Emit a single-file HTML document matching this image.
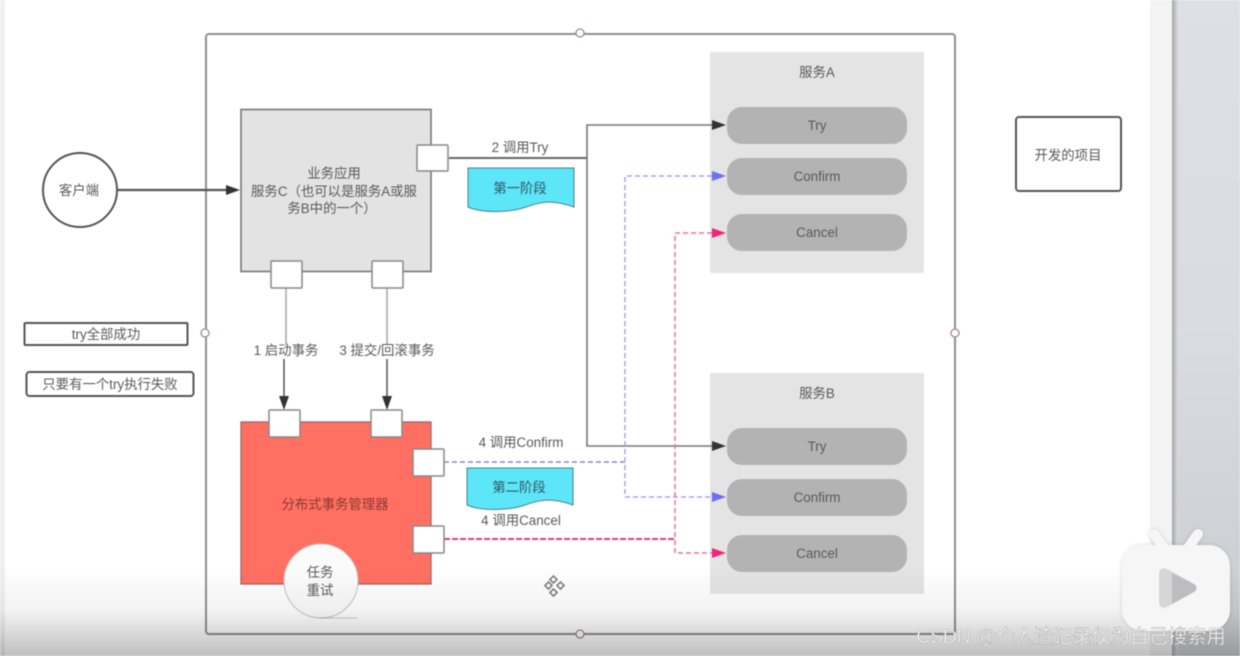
<!DOCTYPE html>
<html><head><meta charset="utf-8"><style>
html,body{margin:0;padding:0;width:1240px;height:656px;overflow:hidden;background:#fff}
svg{position:absolute;left:0;top:0;display:block;filter:blur(.45px)}
text{font-family:"Liberation Sans","Noto Sans CJK SC",sans-serif;font-size:13.4px;fill:#5a5a5a;text-anchor:middle}
</style></head><body>
<svg width="1240" height="656" viewBox="0 0 1240 656">
<defs>
<linearGradient id="fade" x1="0" y1="0" x2="0" y2="1">
<stop offset="0" stop-color="#000" stop-opacity="0"/>
<stop offset=".5" stop-color="#000" stop-opacity=".05"/>
<stop offset="1" stop-color="#000" stop-opacity=".25"/>
</linearGradient>
<linearGradient id="side" x1="0" y1="0" x2="1" y2="0">
<stop offset="0" stop-color="#a4a6aa"/><stop offset="1" stop-color="#d9dbe1"/>
</linearGradient>
<linearGradient id="panel" x1="0" y1="0" x2="0" y2="1">
<stop offset="0" stop-color="#dfe0e5"/><stop offset=".5" stop-color="#dbdce1"/><stop offset="1" stop-color="#cbccd0"/>
</linearGradient>
<filter id="sh" x="-20%" y="-20%" width="140%" height="140%"><feDropShadow dx="0" dy="0" stdDeviation="2" flood-color="#000" flood-opacity=".16"/></filter>
</defs>
<rect width="1240" height="656" fill="#fff"/>
<rect x="0" y="0" width="5" height="656" fill="#f0f0f1"/>
<rect x="1150" y="0" width="22" height="656" fill="#f3f3f3"/>
<rect x="1172" y="0" width="68" height="656" fill="url(#panel)"/>
<rect x="1172" y="0" width="6" height="656" fill="url(#side)"/>

<!-- container -->
<rect x="206" y="34" width="749" height="600" rx="3" fill="none" stroke="#8f8f8f" stroke-width="2"/>
<g fill="#fff" stroke="#a08a88" stroke-width="1.3">
<circle cx="580" cy="33" r="4"/><circle cx="205" cy="333" r="4"/><circle cx="955" cy="333" r="4"/><circle cx="580" cy="634" r="4"/>
</g>

<!-- service groups -->
<rect x="710" y="52" width="214" height="221" rx="2" fill="#e4e4e4"/>
<rect x="710" y="373" width="214" height="221" rx="2" fill="#e4e4e4"/>
<g fill="#b3b3b3">
<rect x="727" y="107" width="180" height="37" rx="15"/>
<rect x="727" y="158" width="180" height="37" rx="15"/>
<rect x="727" y="214" width="180" height="37" rx="15"/>
<rect x="727" y="428" width="180" height="37" rx="15"/>
<rect x="727" y="479" width="180" height="37" rx="15"/>
<rect x="727" y="535" width="180" height="37" rx="15"/>
</g>
<text x="817" y="77">服务A</text><text x="817" y="398">服务B</text>
<text x="817" y="130">Try</text><text x="817" y="181">Confirm</text><text x="817" y="237">Cancel</text>
<text x="817" y="451">Try</text><text x="817" y="502">Confirm</text><text x="817" y="558">Cancel</text>

<!-- app -->
<rect x="241" y="109.500" width="190" height="162" fill="#e3e3e3" stroke="#777" stroke-width="1.600"/>
<text x="334" y="178">业务应用</text>
<text x="334" y="196">服务C（也可以是服务A或服</text>
<text x="332" y="213">务B中的一个）</text>

<!-- manager -->
<rect x="241" y="422" width="190" height="162" fill="#ff7062" stroke="#9a6a62" stroke-width="1.300"/>
<text x="335" y="509" style="fill:#8c3a30">分布式事务管理器</text>
<circle cx="321" cy="581" r="37" fill="#fbfbfb" stroke="#c4c4c4" stroke-width="1"/>
<line x1="320" y1="618" x2="358" y2="618" stroke="#999" stroke-width="1" stroke-dasharray="1 1"/>
<text x="320" y="577">任务</text><text x="320" y="595">重试</text>

<!-- connectors solid -->
<path d="M118 190H226" stroke="#555" stroke-width="2.200" fill="none"/>
<path d="M226 185l14 5-14 5z" fill="#333"/>
<path d="M449 158H587" stroke="#666" stroke-width="2" fill="none"/>
<path d="M712 125H587V446H712" stroke="#777" stroke-width="1.600" fill="none"/>
<path d="M712 120l14 5-14 5zM712 441l14 5-14 5z" fill="#333"/>
<path d="M286 288V345M387 288V345" stroke="#aaa" stroke-width="1.600" fill="none"/>
<path d="M284 359V396M387 359V396" stroke="#555" stroke-width="1.500" fill="none"/>
<path d="M279 396l5 14 5-14zM382 396l5 14 5-14z" fill="#333"/>

<!-- dashed violet -->
<path d="M444 462H625" stroke="#8d84c8" stroke-width="1.500" stroke-dasharray="5 3" fill="none"/>
<path d="M712 176H625V497H712" stroke="#a9a2ee" stroke-width="1.500" stroke-dasharray="5 3" fill="none"/>
<path d="M712 171l14 5-14 5zM712 492l14 5-14 5z" fill="#6e6ef5"/>
<!-- dashed pink -->
<path d="M444 539H675" stroke="#d8407e" stroke-width="2" stroke-dasharray="6 2" fill="none"/>
<path d="M712 233H675V553H712" stroke="#ee6fa0" stroke-width="1.500" stroke-dasharray="5 3" fill="none"/>
<path d="M712 228l14 5-14 5zM712 548l14 5-14 5z" fill="#f0267c"/>

<!-- ports -->
<g fill="#fff" stroke="#888" stroke-width="1.500">
<rect x="417" y="145" width="31" height="26" rx="1"/>
<rect x="271" y="261" width="31" height="27" rx="1"/>
<rect x="372" y="261" width="31" height="27" rx="1"/>
<rect x="269" y="410" width="31" height="27" rx="1"/>
<rect x="371" y="410" width="31" height="27" rx="1"/>
<rect x="413" y="449" width="31" height="27" rx="1"/>
<rect x="413" y="526" width="31" height="27" rx="1"/>
</g>

<!-- phase banners -->
<path d="M468 168H574V207C552 199 540 202 526 207C512 212 484 214 468 207Z" fill="#5ce6f7" stroke="#4a7f90" stroke-width="1"/>
<path d="M467 468H573V505C551 497 539 500 525 505C511 510 483 512 467 505Z" fill="#5ce6f7" stroke="#4a7f90" stroke-width="1"/>
<text x="520" y="193" style="fill:#356">第一阶段</text>
<text x="519" y="492" style="fill:#356">第二阶段</text>

<!-- labels -->
<text x="520" y="152">2 调用Try</text>
<text x="286" y="355">1 启动事务</text>
<text x="387" y="355">3 提交/回滚事务</text>
<text x="521" y="447">4 调用Confirm</text>
<text x="521" y="525">4 调用Cancel</text>

<!-- left -->
<circle cx="80" cy="190" r="37" fill="#fff" stroke="#555" stroke-width="2"/>
<text x="79" y="195">客户端</text>
<rect x="24.500" y="323" width="163" height="22" rx="1" fill="#fff" stroke="#555" stroke-width="2"/>
<text x="106" y="339">try全部成功</text>
<rect x="26.500" y="372" width="167" height="24" rx="3" fill="#fff" stroke="#555" stroke-width="2"/>
<text x="110" y="389">只要有一个try执行失败</text>

<!-- right -->
<rect x="1016" y="117" width="105" height="74" rx="3" fill="#fff" stroke="#555" stroke-width="2"/>
<text x="1068" y="160">开发的项目</text>

<!-- cursor icon -->
<g fill="none" stroke="#777" stroke-width="1.500">
<rect x="551" y="577" width="5" height="5" transform="rotate(45 553.500 579.500)"/>
<rect x="551" y="590" width="5" height="5" transform="rotate(45 553.500 592.500)"/>
<rect x="546" y="583" width="5" height="5" transform="rotate(45 548.500 585.500)"/>
<rect x="558" y="583" width="5" height="5" transform="rotate(45 560.500 585.500)"/>
</g>

<!-- bottom fade -->
<rect x="0" y="566" width="1240" height="90" fill="url(#fade)"/>

<!-- watermark -->
<g filter="url(#sh)">
<path d="M1164 548l-10-14M1188 548l10-14" stroke="#f6f6f6" stroke-width="10" stroke-linecap="round"/>
<rect x="1122" y="545" width="108" height="86" rx="21" fill="#f6f6f6"/>
</g>
<path d="M1159 575Q1159 566 1167 569L1194 584Q1199 588 1194 592L1167 607Q1159 610 1159 601Z" fill="#d6d6d6"/>
<path d="M1172 573L1194 584Q1199 588 1194 592L1172 604Z" fill="#bdbdc0"/>
<text x="1071" y="643" style="font-size:19.200px;fill:#fff;stroke:#777;stroke-width:.3">CSDN @个人渣记录仅为自己搜索用</text>
</svg>
</body></html>
